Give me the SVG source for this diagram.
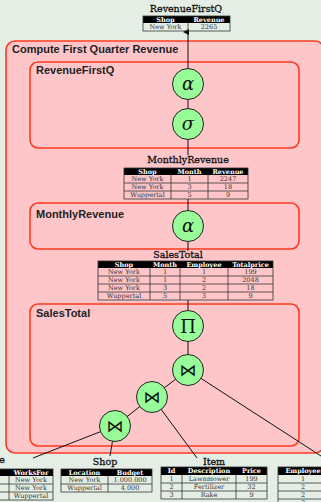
<svg xmlns="http://www.w3.org/2000/svg" width="321" height="502" viewBox="0 0 321 502">
  <defs>
    <marker id="arrow" markerWidth="6" markerHeight="6" refX="3" refY="5" orient="auto-start-reverse" markerUnits="userSpaceOnUse" viewBox="0 0 6 6">
      <path d="M0,6 L3,0 L6,6 Z" fill="#000"/>
    </marker>
  </defs>
  <style>
    .bg { fill: #e4eee4; }
    .box { fill: #ffc6ca; stroke: #ff3a20; stroke-width: 1.6; }
    .inner { fill: none; stroke: #ff3a20; stroke-width: 1.6; }
    .boxlabel { font-family: "Liberation Sans", Arial, sans-serif; font-weight: bold; font-size: 11px; fill: #222; }
    .op { fill: #98fc98; stroke: #222; stroke-width: 1; }
    .sym { font-family: "DejaVu Serif", "Liberation Serif", serif; font-size: 18px; fill: #111; text-anchor: middle; }
    .symi { font-style: italic; }
    .join { font-family: "DejaVu Sans", sans-serif; font-size: 17px; fill: #111; text-anchor: middle; }
    .edge { stroke: #111; stroke-width: 1; fill: none; }
    .title { font-family: "DejaVu Serif", "Liberation Serif", serif; font-size: 9.5px; fill: #111; stroke: #111; stroke-width: 0.3; text-anchor: middle; }
    .thead { fill: #000; }
    .th { font-family: "DejaVu Serif", "Liberation Serif", serif; font-weight: bold; font-size: 6.5px; fill: #fff; text-anchor: middle; }
    .td { font-family: "DejaVu Serif", "Liberation Serif", serif; font-size: 6.5px; fill: #333; text-anchor: middle; }
    .grid { fill: none; stroke: #333; stroke-width: 0.8; }
  </style>

  <rect class="bg" x="0" y="0" width="321" height="502"/>

  <!-- nested process boxes -->
  <g id="box-compute">
    <rect class="box" x="6" y="41" width="318" height="412" rx="9"/>
    <text class="boxlabel" x="12" y="53">Compute First Quarter Revenue</text>
  </g>
  <g id="box-revenuefirstq">
    <rect class="inner" x="30" y="62" width="269" height="86" rx="8"/>
    <text class="boxlabel" x="36" y="74">RevenueFirstQ</text>
  </g>
  <g id="box-monthlyrevenue">
    <rect class="inner" x="30" y="203" width="269" height="46" rx="8"/>
    <text class="boxlabel" x="36" y="218">MonthlyRevenue</text>
  </g>
  <g id="box-salestotal">
    <rect class="inner" x="30" y="304" width="269" height="142" rx="8"/>
    <text class="boxlabel" x="36" y="317">SalesTotal</text>
  </g>

  <!-- connectors -->
  <g id="connectors">
    <line class="edge" x1="188" y1="68.5" x2="188" y2="32" marker-end="url(#arrow)"/>
    <line class="edge" x1="188" y1="99.5" x2="188" y2="108.5"/>
    <line class="edge" x1="188" y1="139.5" x2="188" y2="155"/>
    <line class="edge" x1="188" y1="199" x2="188" y2="210.5"/>
    <line class="edge" x1="188" y1="241.5" x2="188" y2="251"/>
    <line class="edge" x1="188" y1="300" x2="188" y2="310.5"/>
    <line class="edge" x1="188" y1="341.5" x2="188" y2="354.5"/>
    <line class="edge" x1="188" y1="370" x2="152" y2="397"/>
    <line class="edge" x1="152" y1="397" x2="115" y2="426"/>
    <line class="edge" x1="188" y1="370" x2="321" y2="456"/>
    <line class="edge" x1="152" y1="397" x2="197" y2="458"/>
    <line class="edge" x1="115" y1="426" x2="110" y2="456"/>
    <line class="edge" x1="115" y1="426" x2="33" y2="458"/>
  </g>

  <!-- operators -->
  <g id="op-alpha-top">
    <circle class="op" cx="188" cy="84" r="15.5"/>
    <text class="sym symi" x="188" y="90">α</text>
  </g>
  <g id="op-sigma">
    <circle class="op" cx="188" cy="124" r="15.5"/>
    <text class="sym symi" x="188" y="130">σ</text>
  </g>
  <g id="op-alpha-monthly">
    <circle class="op" cx="188" cy="226" r="15.5"/>
    <text class="sym symi" x="188" y="232">α</text>
  </g>
  <g id="op-pi">
    <circle class="op" cx="188" cy="326" r="15.5"/>
    <text class="sym" x="188" y="332.5">Π</text>
  </g>
  <g id="op-join1">
    <circle class="op" cx="188" cy="370" r="15.5"/>
    <text class="join" x="188" y="376">⋈</text>
  </g>
  <g id="op-join2">
    <circle class="op" cx="152" cy="397" r="15.5"/>
    <text class="join" x="152" y="403">⋈</text>
  </g>
  <g id="op-join3">
    <circle class="op" cx="115" cy="426" r="15.5"/>
    <text class="join" x="115" y="432">⋈</text>
  </g>

  <!-- result table: RevenueFirstQ -->
  <g id="table-revenuefirstq">
    <text class="title" x="186" y="12">RevenueFirstQ</text>
    <rect class="thead" x="143" y="16" width="87" height="7"/>
    <rect class="grid" x="143" y="16" width="87" height="15"/>
    <line class="grid" x1="188" y1="23" x2="188" y2="31"/>
    <text class="th" x="165.5" y="21.7">Shop</text>
    <text class="th" x="209" y="21.7">Revenue</text>
    <text class="td" x="165.5" y="29.3">New York</text>
    <text class="td" x="209" y="29.3">2265</text>
  </g>

  <!-- intermediate table: MonthlyRevenue -->
  <g id="table-monthlyrevenue">
    <text class="title" x="188" y="163">MonthlyRevenue</text>
    <rect class="thead" x="124" y="168" width="124" height="7"/>
    <rect class="grid" x="124" y="168" width="124" height="31"/>
    <line class="grid" x1="124" y1="183" x2="248" y2="183"/>
    <line class="grid" x1="124" y1="191" x2="248" y2="191"/>
    <line class="grid" x1="171" y1="175" x2="171" y2="199"/>
    <line class="grid" x1="208" y1="175" x2="208" y2="199"/>
    <text class="th" x="147.5" y="173.7">Shop</text>
    <text class="th" x="189.5" y="173.7">Month</text>
    <text class="th" x="228" y="173.7">Revenue</text>
    <text class="td" x="147.5" y="181.3">New York</text>
    <text class="td" x="189.5" y="181.3">1</text>
    <text class="td" x="228" y="181.3">2247</text>
    <text class="td" x="147.5" y="189.3">New York</text>
    <text class="td" x="189.5" y="189.3">3</text>
    <text class="td" x="228" y="189.3">18</text>
    <text class="td" x="147.5" y="197.3">Wuppertal</text>
    <text class="td" x="189.5" y="197.3">5</text>
    <text class="td" x="228" y="197.3">9</text>
  </g>

  <!-- intermediate table: SalesTotal -->
  <g id="table-salestotal">
    <text class="title" x="178" y="258">SalesTotal</text>
    <rect class="thead" x="98" y="261" width="175" height="7"/>
    <rect class="grid" x="98" y="261" width="175" height="39"/>
    <line class="grid" x1="98" y1="276" x2="273" y2="276"/>
    <line class="grid" x1="98" y1="284" x2="273" y2="284"/>
    <line class="grid" x1="98" y1="292" x2="273" y2="292"/>
    <line class="grid" x1="150" y1="268" x2="150" y2="300"/>
    <line class="grid" x1="180" y1="268" x2="180" y2="300"/>
    <line class="grid" x1="228" y1="268" x2="228" y2="300"/>
    <text class="th" x="124" y="266.7">Shop</text>
    <text class="th" x="165" y="266.7">Month</text>
    <text class="th" x="204" y="266.7">Employee</text>
    <text class="th" x="250.5" y="266.7">Totalprice</text>
    <text class="td" x="124" y="274.3">New York</text>
    <text class="td" x="165" y="274.3">1</text>
    <text class="td" x="204" y="274.3">1</text>
    <text class="td" x="250.5" y="274.3">199</text>
    <text class="td" x="124" y="282.3">New York</text>
    <text class="td" x="165" y="282.3">1</text>
    <text class="td" x="204" y="282.3">2</text>
    <text class="td" x="250.5" y="282.3">2048</text>
    <text class="td" x="124" y="290.3">New York</text>
    <text class="td" x="165" y="290.3">3</text>
    <text class="td" x="204" y="290.3">2</text>
    <text class="td" x="250.5" y="290.3">18</text>
    <text class="td" x="124" y="298.3">Wuppertal</text>
    <text class="td" x="165" y="298.3">5</text>
    <text class="td" x="204" y="298.3">3</text>
    <text class="td" x="250.5" y="298.3">9</text>
  </g>

  <!-- base table: Employee (left), mostly beyond the left edge -->
  <g id="table-employee-left">
    <text class="title" x="5" y="463" style="text-anchor:end">Employee</text>
    <rect class="thead" x="-45" y="469" width="98" height="7"/>
    <rect class="grid" x="-45" y="469" width="98" height="31"/>
    <line class="grid" x1="-45" y1="484" x2="53" y2="484"/>
    <line class="grid" x1="-45" y1="492" x2="53" y2="492"/>
    <line class="grid" x1="9" y1="476" x2="9" y2="500"/>
    <text class="th" x="31" y="474.7">WorksFor</text>
    <text class="td" x="31" y="482.3">New York</text>
    <text class="td" x="31" y="490.3">New York</text>
    <text class="td" x="31" y="498.3">Wuppertal</text>
  </g>

  <!-- base table: Shop -->
  <g id="table-shop">
    <text class="title" x="105" y="465">Shop</text>
    <rect class="thead" x="61" y="469" width="91" height="7"/>
    <rect class="grid" x="61" y="469" width="91" height="23"/>
    <line class="grid" x1="61" y1="484" x2="152" y2="484"/>
    <line class="grid" x1="108" y1="476" x2="108" y2="492"/>
    <text class="th" x="84.5" y="474.7">Location</text>
    <text class="th" x="130" y="474.7">Budget</text>
    <text class="td" x="84.5" y="482.3">New York</text>
    <text class="td" x="130" y="482.3">1.000.000</text>
    <text class="td" x="84.5" y="490.3">Wuppertal</text>
    <text class="td" x="130" y="490.3">4.000</text>
  </g>

  <!-- base table: Item -->
  <g id="table-item">
    <text class="title" x="214" y="465">Item</text>
    <rect class="thead" x="161" y="467" width="106" height="8"/>
    <rect class="grid" x="161" y="467" width="106" height="32"/>
    <line class="grid" x1="161" y1="483" x2="267" y2="483"/>
    <line class="grid" x1="161" y1="491" x2="267" y2="491"/>
    <line class="grid" x1="182" y1="475" x2="182" y2="499"/>
    <line class="grid" x1="236" y1="475" x2="236" y2="499"/>
    <text class="th" x="171.5" y="473.2">Id</text>
    <text class="th" x="209" y="473.2">Description</text>
    <text class="th" x="251.5" y="473.2">Price</text>
    <text class="td" x="171.5" y="481.3">1</text>
    <text class="td" x="209" y="481.3">Lawnmower</text>
    <text class="td" x="251.5" y="481.3">199</text>
    <text class="td" x="171.5" y="489.3">2</text>
    <text class="td" x="209" y="489.3">Fertilizer</text>
    <text class="td" x="251.5" y="489.3">32</text>
    <text class="td" x="171.5" y="497.3">3</text>
    <text class="td" x="209" y="497.3">Rake</text>
    <text class="td" x="251.5" y="497.3">9</text>
  </g>

  <!-- base table: Sales (right), only its first column is in view -->
  <g id="table-sales-right">
    <rect class="thead" x="278" y="467" width="60" height="8"/>
    <rect class="grid" x="278" y="467" width="60" height="40"/>
    <line class="grid" x1="278" y1="483" x2="338" y2="483"/>
    <line class="grid" x1="278" y1="491" x2="338" y2="491"/>
    <line class="grid" x1="278" y1="499" x2="338" y2="499"/>
    <text class="th" x="303" y="473.2">Employee</text>
    <text class="td" x="303" y="481.3">1</text>
    <text class="td" x="303" y="489.3">2</text>
    <text class="td" x="303" y="497.3">2</text>
    <text class="td" x="303" y="505.3">3</text>
  </g>
</svg>
